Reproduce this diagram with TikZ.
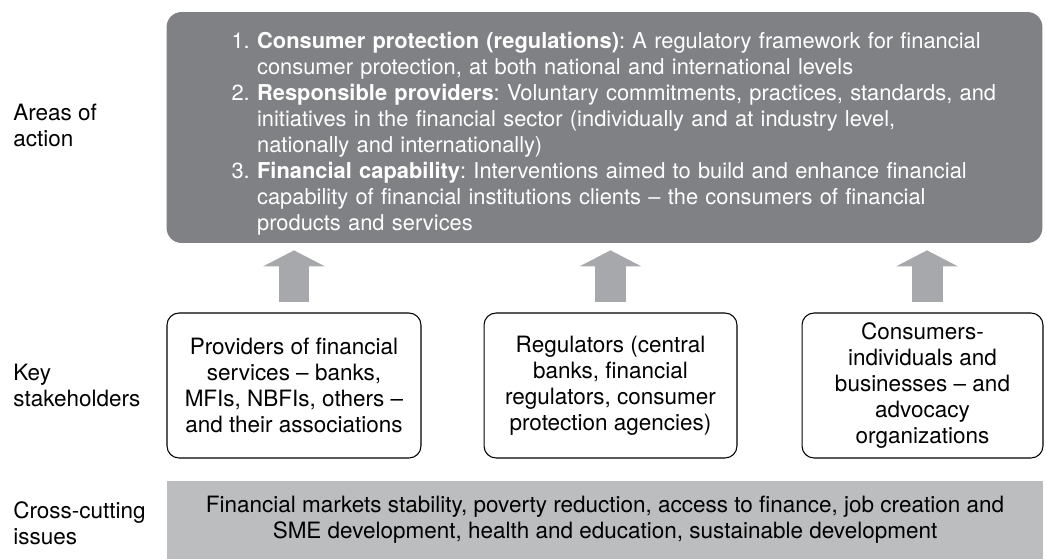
\documentclass[tikz,border=0pt]{standalone}
\usepackage{fontspec}
\setmainfont{TeX Gyre Heros}
\usetikzlibrary{arrows.meta,positioning}
\definecolor{areagray}{RGB}{128,129,133}
\definecolor{arrowgray}{RGB}{167,168,171}
\definecolor{issuegray}{RGB}{188,189,191}
\frenchspacing

\begin{document}
\begin{tikzpicture}[x=0.02cm,y=-0.02cm,
    every node/.style={font=\fontsize{12.8}{14.8}\selectfont},
    rowlabel/.style={anchor=west,align=left,inner sep=0pt},
    holder/.style={draw=black,line width=0.6pt,rounded corners=0.24cm,align=center,minimum height=2.9cm,inner sep=2pt},
    uparrow/.style={arrowgray,line width=0.62cm,-{Triangle[width=1.22cm,length=0.32cm]},shorten <=0.2cm,shorten >=0.14cm}]
        \useasboundingbox (0,0) rectangle (1046,559);
        \node[fill=areagray,rounded corners=0.3cm,text=white,text width=14.92cm,inner xsep=1.3cm,inner ysep=0pt,minimum height=4.62cm,align=left,font=\fontsize{12.45}{14.8}\selectfont] (areas) at (604.5,127.5) {%
            \raisebox{-0.14cm}[\height][\depth]{\begin{tabular}{@{}l@{\ }l@{}}
            1. & \textbf{Consumer protection (regulations)}: A regulatory framework for financial\\
               & consumer protection, at both national and international levels\\
            2. & \textbf{Responsible providers}: Voluntary commitments, practices, standards, and\\
               & initiatives in the financial sector (individually and at industry level,\\
               & nationally and internationally)\\
            3. & \textbf{Financial capability}: Interventions aimed to build and enhance financial\\
               & capability of financial institutions clients – the consumers of financial\\
               & products and services
            \end{tabular}}};
        \node[holder,minimum width=5.08cm] (providers) at (294,385.5) {Providers of financial\\services – banks,\\MFIs, NBFIs, others –\\and their associations};
        \node[holder,minimum width=5.06cm] (regulators) at (610.5,385.5) {Regulators (central\\banks, financial\\regulators, consumer\\protection agencies)};
        \node[holder,minimum width=4.82cm] (consumers) at (922.5,385.5) {Consumers-\\individuals and\\businesses – and\\advocacy\\organizations};
        \node[fill=issuegray,minimum width=17.52cm,minimum height=1.56cm,align=center,inner sep=0pt] (issues) at (605,520) {Financial markets stability, poverty reduction, access to finance, job creation and\\SME development, health and education, sustainable development};
        \node[rowlabel] (lblareas) at (13,125) {Areas of\\action};
        \node[rowlabel] (lblkey) at (13,385) {Key\\stakeholders};
        \node[rowlabel] (lblcross) at (13,523) {Cross-cutting\\issues};
        \draw[uparrow] (providers.north) -- (providers.north |- areas.south);
        \draw[uparrow] (regulators.north) -- (regulators.north |- areas.south);
        \draw[uparrow] ([xshift=0.09cm]consumers.north) -- ([xshift=0.09cm]consumers.north |- areas.south);
\end{tikzpicture}
\end{document}
